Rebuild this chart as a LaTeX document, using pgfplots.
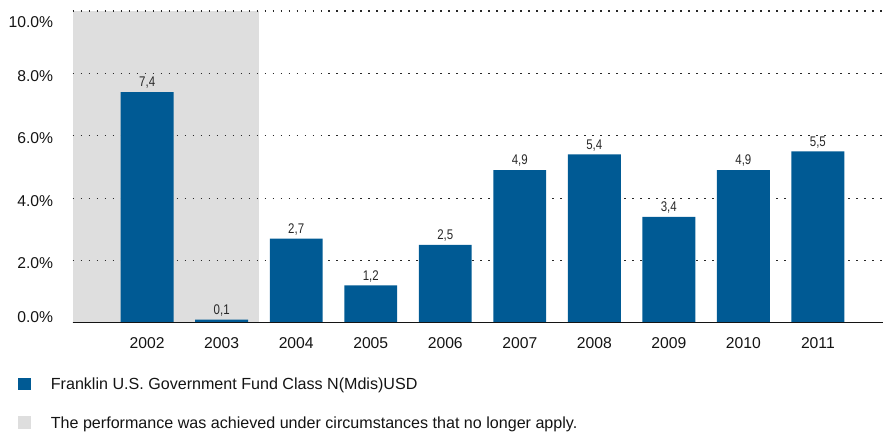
\documentclass[border=0pt]{standalone}
\usepackage{fontspec}
\setmainfont{Liberation Sans}
\newfontfamily\narrowfont[FakeStretch=0.82]{Liberation Sans}
\usepackage{pgfplots}
\pgfplotsset{compat=1.18}
\definecolor{barblue}{RGB}{0,90,148}
\definecolor{shadegray}{RGB}{222,222,222}
\definecolor{gridc}{RGB}{40,40,40}
\definecolor{lab}{RGB}{40,40,40}
\definecolor{txt}{RGB}{20,20,20}

\begin{document}
\begin{tikzpicture}
\begin{axis}[
  at={(72.7bp,109bp)}, anchor=south west,
  scale only axis, width=811.3bp, height=312bp,
  set layers,
  xmin=0, xmax=10.88, ymin=0, ymax=10,
  axis line style={draw=none},
  major tick length=0,
  /pgf/number format/assume math mode=true,
  xtick={1,2,3,4,5,6,7,8,9,10},
  xticklabels={2002,2003,2004,2005,2006,2007,2008,2009,2010,2011},
  ytick={0,2,4,6,8,10},
  yticklabels={\raisebox{8bp}{0.0\%},2.0\%,4.0\%,6.0\%,8.0\%,\raisebox{-9bp}{10.0\%}},
  yticklabel style={anchor=base east, inner sep=0, xshift=-19.4bp, yshift=-8bp, text=txt, font=\fontsize{15.7bp}{18bp}\selectfont},
  xticklabel style={anchor=base, inner sep=0, yshift=-25.3bp, text=txt, font=\fontsize{15.7bp}{18bp}\selectfont},
  ymajorgrids,
  major grid style={gridc, line width=1.1bp, dash pattern=on 1.6bp off 6.4bp},
  bar width=0.71,
]
\addplot[ybar, fill=barblue, draw=none,
  nodes near coords={\pgfmathprintnumber[fixed,precision=1,fixed zerofill,use comma]{\pgfplotspointmeta}},
  nodes near coords style={anchor=base, inner sep=0, yshift=5.3bp, text=lab, font=\narrowfont\fontsize{14bp}{16bp}\selectfont}]
  coordinates {(1,7.4) (2,0.1) (3,2.7) (4,1.2) (5,2.5) (6,4.9) (7,5.4) (8,3.4) (9,4.9) (10,5.5)};
\begin{pgfonlayer}{axis background}
\fill[shadegray] (axis cs:0,0) rectangle (axis cs:2.5,10);
\end{pgfonlayer}
\draw[txt, line width=1.1bp] (rel axis cs:0,0) -- (rel axis cs:1,0);
\end{axis}
\fill[barblue] (18.3bp,41.3bp) rectangle ++(12.4bp,12.4bp);
\node[anchor=base west, inner sep=0, text=txt, font=\fontsize{16.1bp}{19bp}\selectfont] at (50.7bp,42bp) {Franklin U.S. Government Fund Class N(Mdis)USD};
\fill[shadegray] (18.3bp,3bp) rectangle ++(12.4bp,12.4bp);
\node[anchor=base west, inner sep=0, text=txt, font=\fontsize{16.1bp}{19bp}\selectfont] at (50.7bp,3bp) {The performance was achieved under circumstances that no longer apply.};
\useasboundingbox (0,0) rectangle (884bp,432bp);
\end{tikzpicture}
\end{document}
